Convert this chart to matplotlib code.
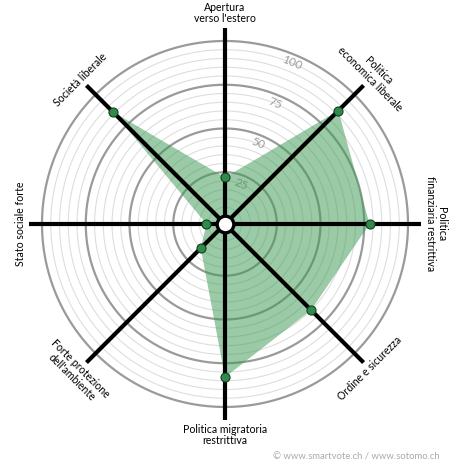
import numpy as np
import matplotlib
matplotlib.use('Agg')
import matplotlib.pyplot as plt

plt.rcParams['font.family'] = ['Lato', 'DejaVu Sans']

# assi dello smartspider, in senso orario partendo dall'alto
labels = ['Apertura\nverso l\'estero', 'Politica\neconomica liberale',
          'Politica\nfinanziaria restrittiva', 'Ordine e sicurezza',
          'Politica migratoria\nrestrittiva', 'Forte protezione\ndell\'ambiente',
          'Stato sociale forte', 'Società liberale']
values = [22, 87, 78, 65, 83, 15, 6, 86]
ring_ticks = [25, 50, 75, 100]
label_rot = [0, -45, -90, 45, 0, -45, 90, 45]

n = len(labels)
theta = np.arange(n) * 2 * np.pi / n

fig = plt.figure(figsize=(4.5, 4.7), dpi=100)
ax = fig.add_axes([0.0622, 0.1043, 0.8756, 0.8383], projection='polar')
ax.set_theta_zero_location('N')
ax.set_theta_direction(-1)
ax.set_rorigin(-8 / 1.75)
ax.set_ylim(0, 108)
ax.set_xticks([])
ax.set_yticks([])
ax.grid(False)
ax.spines['polar'].set_visible(False)
ax.patch.set_visible(False)

# cerchi
circ = np.linspace(0, 2 * np.pi, 400)
for r in range(5, 101, 5):
    if r in ring_ticks:
        ax.plot(circ, np.full_like(circ, r), color='#9a9a9a', lw=1.6, zorder=1)
    else:
        ax.plot(circ, np.full_like(circ, r), color='#dedede', lw=0.8, zorder=1)
for r in ring_ticks:
    ax.text(np.deg2rad(22.5), r - 5, str(r), color='#9a9a9a', fontsize=8.5,
            rotation=-22.5, ha='center', va='center', zorder=1)

# area
th_closed = np.append(theta, theta[0])
v_closed = np.append(values, values[0])
ax.fill(th_closed, v_closed, color='#3d9a55', alpha=0.52, lw=0, zorder=2)

# assi
for t in theta:
    ax.plot([t, t], [0, 107.4], color='black', lw=3, solid_capstyle='butt', zorder=3)

ax.plot(theta, values, 'o', color='#2e8b4a', markersize=6.5, mec='#173d22', mew=0.8,
        zorder=4)
ax.plot([0.5], [0.5], 'o', transform=ax.transAxes, markersize=12, color='white',
        mec='black', mew=2.4, zorder=5, clip_on=False)

# etichette
for t, lab, rot in zip(theta, labels, label_rot):
    r = 116 if '\n' in lab else 112
    ax.text(t, r, lab, rotation=rot, rotation_mode='anchor', ha='center', va='center',
            fontsize=7.6, color='black', linespacing=1.1, clip_on=False)

fig.text(440 / 450, 1 - 457 / 470, '© www.smartvote.ch / www.sotomo.ch', ha='right',
         va='center', fontsize=6.8, color='#aaaaaa')

fig.savefig('out.png', dpi=100, facecolor='white')
